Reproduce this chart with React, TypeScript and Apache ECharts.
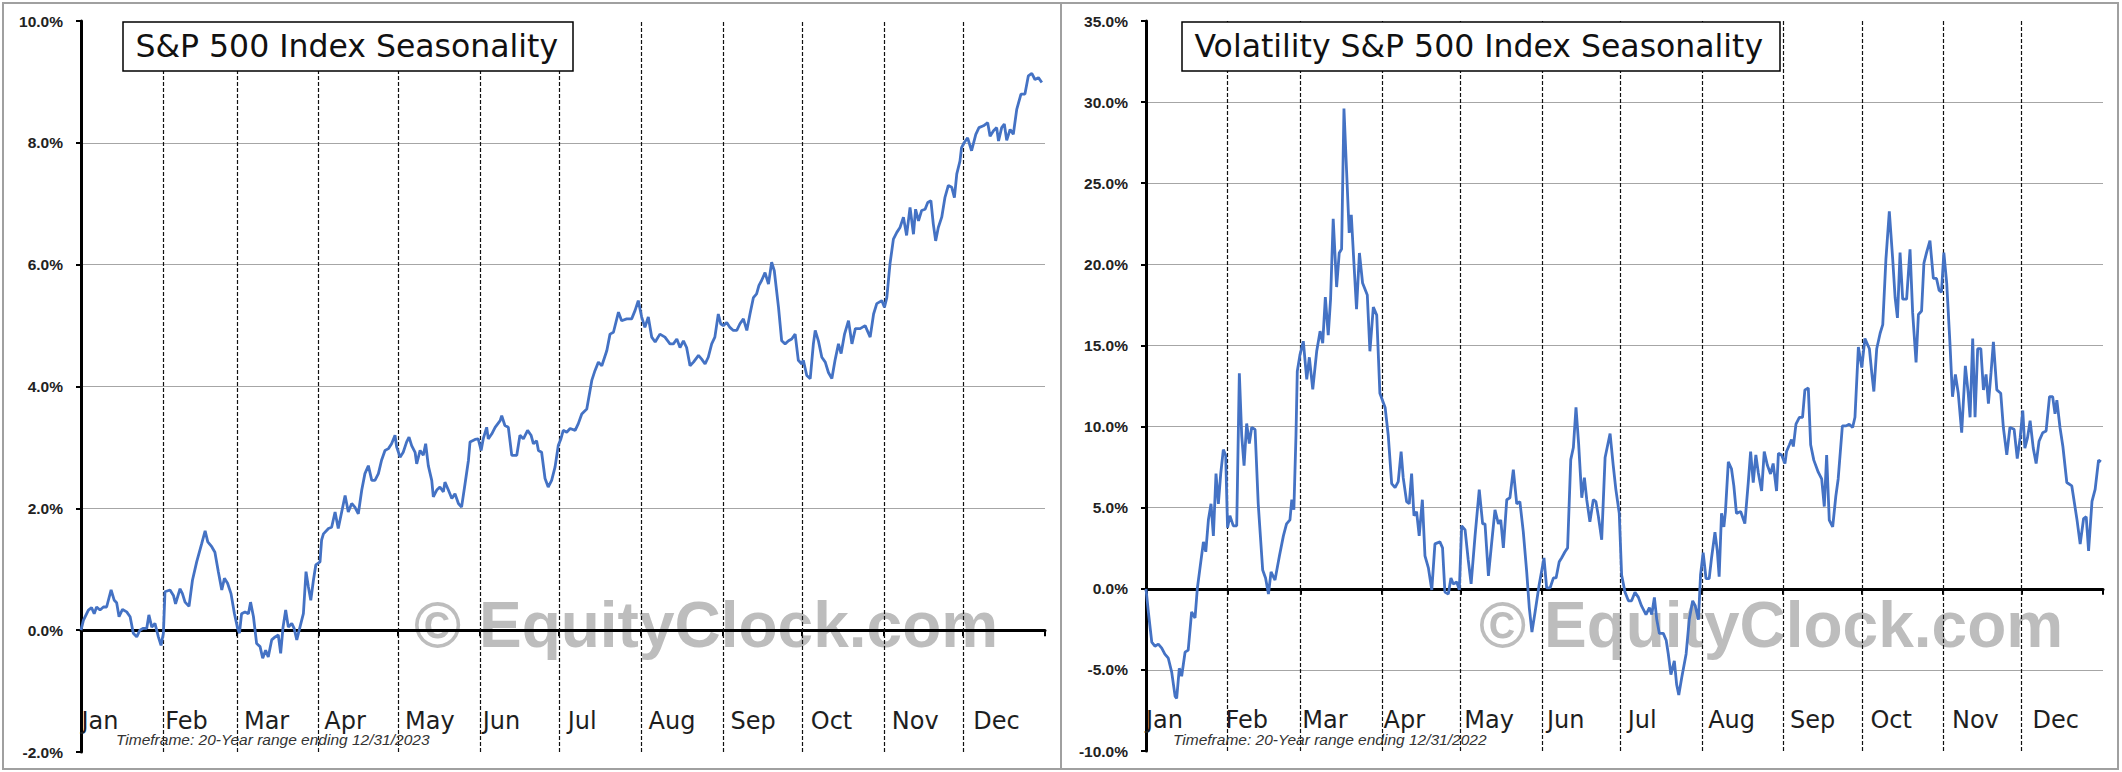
import React, { useEffect, useRef } from "react";
import * as echarts from "echarts";

// ---------- shared axis data ----------
const monthNames = ["Jan", "Feb", "Mar", "Apr", "May", "Jun", "Jul", "Aug", "Sep", "Oct", "Nov", "Dec"];
const monthStartDays = [0, 31, 59, 90, 120, 151, 181, 212, 243, 273, 304, 334, 365];
// day at which each month label starts (first trading days)
const spxLabelDays = [0.2, 31.9, 61.7, 92.1, 122.7, 152.1, 184.3, 214.9, 245.9, 276.3, 307, 337.8];
const vixLabelDays = [0, 30.3, 59.6, 90.6, 121.4, 152.9, 183.7, 214.4, 245.6, 276.3, 307.4, 338.1];

// ---------- S&P 500 seasonality (% gain, by day of year) ----------
const spxDays = [
  0, 0.9, 2.8, 4.0, 5.0, 5.9, 7.2, 8.5, 9.7, 11.4, 12.6, 13.5, 14.4, 15.7, 17.3, 18.6, 19.8, 21.1, 22.3, 23.6,
  24.9, 25.7, 26.8, 28.0, 29.3, 30.3, 31.2, 31.8, 33.7, 35.0, 35.8, 37.5, 38.4, 39.4, 40.9, 42.2, 43.8, 45.7, 47.0, 48.0,
  49.5, 50.7, 52.0, 53.3, 54.3, 55.5, 56.8, 58.1, 59.3, 60.0, 60.8, 62.1, 63.4, 64.2, 65.3, 66.5, 67.8, 68.8, 69.9, 70.9,
  72.2, 73.5, 74.7, 75.6, 76.5, 77.5, 78.5, 79.8, 80.7, 81.7, 82.9, 84.2, 85.2, 86.1, 87.0, 88.0, 88.9, 90.5, 91.1, 91.8,
  93.7, 94.9, 96.2, 97.4, 98.7, 100.0, 101.2, 102.5, 103.7, 105.0, 106.3, 107.5, 108.8, 110.1, 111.3, 112.6, 113.8, 115.1, 116.4, 117.6,
  118.9, 119.5, 120.8, 122.0, 123.3, 124.2, 125.2, 126.5, 127.1, 128.4, 129.6, 130.5, 131.5, 132.8, 133.4, 134.7, 135.9, 137.2, 137.8, 139.1,
  140.4, 141.6, 142.9, 144.1, 145.4, 146.7, 147.3, 149.2, 150.4, 151.5, 152.3, 153.6, 154.2, 155.5, 156.8, 158.7, 159.3, 160.5, 161.8, 163.1,
  165.0, 166.2, 167.5, 169.1, 170.4, 171.3, 172.5, 173.2, 174.4, 175.7, 176.9, 178.2, 179.5, 180.7, 181.7, 182.6, 183.9, 185.2, 187.1, 188.3,
  189.6, 191.5, 193.4, 194.6, 195.9, 197.2, 199.1, 200.3, 201.6, 203.5, 204.7, 206.6, 208.5, 209.8, 211.0, 212.3, 213.5, 214.8, 216.1, 217.4,
  219.2, 221.1, 223.0, 224.3, 225.6, 226.8, 228.1, 229.3, 230.6, 231.9, 233.8, 235.0, 236.3, 237.5, 238.8, 240.0, 241.3, 242.2, 243.2, 244.5,
  245.7, 247.0, 248.3, 249.5, 250.8, 252.1, 253.3, 254.6, 255.8, 256.7, 257.7, 259.0, 260.3, 261.5, 262.5, 264.1, 265.3, 266.6, 267.9, 269.1,
  270.4, 271.6, 272.9, 273.5, 274.8, 276.1, 277.3, 278.0, 279.2, 280.5, 281.8, 283.0, 284.3, 285.5, 286.8, 287.8, 289.1, 290.6, 291.9, 293.2,
  295.0, 296.9, 298.8, 300.1, 301.3, 303.2, 304.2, 305.1, 306.3, 307.6, 308.9, 310.1, 311.4, 312.6, 313.9, 315.2, 316.0, 317.1, 318.3, 319.6,
  320.6, 321.8, 322.7, 323.6, 324.6, 325.9, 327.1, 328.4, 329.7, 330.7, 331.6, 332.8, 333.4, 334.5, 335.7, 337.2, 338.8, 340.0, 341.7, 343.3,
  344.2, 345.5, 346.7, 347.4, 348.6, 349.6, 350.5, 351.8, 353.0, 354.3, 355.9, 357.4, 358.7, 360.0, 361.2, 362.5, 363.8,
];
const spxValues = [
  0, 0.16, 0.33, 0.37, 0.27, 0.38, 0.33, 0.38, 0.38, 0.66, 0.49, 0.45, 0.22, 0.34, 0.30, 0.22, -0.05, -0.11, 0, 0.03,
  0.03, 0.25, 0.05, 0.11, -0.11, -0.25, -0.05, 0.63, 0.66, 0.57, 0.43, 0.68, 0.60, 0.46, 0.39, 0.82, 1.12, 1.42, 1.63, 1.45,
  1.37, 1.28, 0.96, 0.66, 0.85, 0.77, 0.60, 0.27, 0.03, -0.05, 0.27, 0.30, 0.27, 0.46, 0.22, -0.22, -0.27, -0.46, -0.33, -0.44,
  -0.16, -0.11, -0.08, -0.38, 0.05, 0.33, 0.05, 0.11, 0.03, -0.16, 0.05, 0.27, 0.96, 0.71, 0.49, 0.82, 1.07, 1.12, 1.48, 1.58,
  1.67, 1.69, 1.94, 1.67, 1.94, 2.21, 1.94, 2.08, 2.02, 1.91, 2.30, 2.57, 2.70, 2.46, 2.46, 2.57, 2.79, 2.95, 2.98, 3.06,
  3.20, 3.01, 2.84, 2.92, 3.09, 3.17, 3.03, 2.92, 2.73, 2.95, 2.87, 3.06, 2.70, 2.46, 2.19, 2.30, 2.35, 2.27, 2.43, 2.30,
  2.16, 2.24, 2.08, 2.02, 2.40, 2.79, 3.09, 3.13, 3.14, 2.95, 3.14, 3.33, 3.14, 3.22, 3.33, 3.44, 3.52, 3.36, 3.33, 2.87,
  2.87, 3.20, 3.14, 3.28, 3.20, 3.06, 3.11, 2.95, 2.92, 2.49, 2.35, 2.46, 2.68, 3.03, 3.14, 3.28, 3.25, 3.31, 3.28, 3.39,
  3.55, 3.63, 4.10, 4.26, 4.40, 4.34, 4.59, 4.86, 4.89, 5.22, 5.08, 5.11, 5.11, 5.25, 5.41, 5.14, 4.97, 5.14, 4.81, 4.73,
  4.86, 4.81, 4.70, 4.70, 4.78, 4.64, 4.75, 4.64, 4.34, 4.40, 4.51, 4.45, 4.37, 4.48, 4.70, 4.81, 5.19, 5.03, 5.00, 5.05,
  4.97, 4.92, 4.92, 5.03, 5.11, 4.92, 5.19, 5.46, 5.52, 5.66, 5.74, 5.87, 5.68, 6.04, 5.90, 5.30, 4.75, 4.70, 4.75, 4.78,
  4.86, 4.43, 4.37, 4.43, 4.18, 4.13, 4.70, 4.92, 4.75, 4.48, 4.40, 4.23, 4.13, 4.43, 4.70, 4.54, 4.86, 5.08, 4.70, 4.95,
  4.95, 5.00, 4.81, 5.19, 5.36, 5.41, 5.30, 5.46, 6.01, 6.42, 6.53, 6.61, 6.78, 6.48, 6.94, 6.50, 6.91, 6.72, 6.89, 6.91,
  7.02, 7.05, 6.67, 6.39, 6.61, 6.78, 7.10, 7.30, 7.27, 7.10, 7.49, 7.70, 7.92, 8.01, 8.08, 7.87, 8.14, 8.25, 8.28, 8.33,
  8.11, 8.20, 8.25, 8.03, 8.25, 8.31, 8.04, 8.22, 8.14, 8.55, 8.80, 8.80, 9.10, 9.14, 9.04, 9.07, 8.99,
];

// ---------- VIX seasonality (% change, by day of year) ----------
const vixDays = [
  0, 0.9, 2.2, 3.4, 4.7, 6.0, 7.2, 8.5, 9.8, 11.1, 11.7, 12.7, 13.6, 14.9, 16.1, 17.4, 18.7, 19.6, 20.6, 21.9,
  22.8, 23.8, 24.8, 25.7, 26.7, 27.6, 28.5, 29.5, 30.4, 31.1, 32.0, 33.3, 34.6, 35.6, 36.5, 37.4, 38.4, 39.4, 40.3, 41.6,
  42.8, 44.5, 45.6, 46.7, 47.7, 49.2, 50.9, 52.4, 53.6, 54.9, 55.6, 56.4, 57.2, 57.7, 58.7, 60.0, 61.3, 62.3, 63.6, 65.1,
  66.4, 67.4, 68.4, 69.5, 70.4, 71.4, 72.7, 73.7, 74.6, 75.5, 76.5, 77.5, 78.3, 79.3, 80.3, 81.4, 82.6, 84.4, 85.4, 86.7,
  88.0, 89.2, 91.2, 92.4, 93.7, 95.0, 96.2, 97.3, 98.1, 99.4, 100.4, 101.3, 102.2, 103.2, 104.2, 105.4, 106.4, 107.7, 109.0, 110.2,
  112.1, 113.1, 114.0, 115.3, 116.3, 117.2, 118.5, 119.5, 120.4, 121.7, 122.9, 124.0, 125.5, 127.1, 128.4, 129.3, 130.6, 131.8, 133.1, 134.4,
  135.3, 136.3, 137.6, 138.8, 140.1, 141.4, 142.6, 143.9, 145.2, 146.2, 147.2, 148.4, 150.0, 151.8, 152.8, 154.1, 155.4, 156.4, 157.6, 158.5,
  159.8, 160.8, 162.0, 163.0, 164.0, 165.0, 166.2, 167.2, 168.1, 169.3, 170.6, 171.6, 172.5, 173.8, 175.1, 177.0, 178.2, 179.2, 180.5, 181.4,
  182.7, 184.0, 185.2, 186.5, 187.8, 189.0, 190.7, 192.0, 192.9, 193.9, 194.8, 195.8, 197.3, 198.4, 199.2, 200.2, 201.5, 202.4, 203.2, 204.3,
  206.0, 207.2, 208.5, 209.5, 210.7, 211.5, 212.5, 213.6, 214.8, 215.7, 217.0, 217.9, 218.6, 219.5, 220.4, 221.0, 222.1, 223.3, 224.2, 225.2,
  226.8, 228.4, 229.7, 230.6, 231.6, 232.6, 233.5, 234.8, 235.8, 237.0, 238.2, 239.2, 240.5, 241.2, 242.4, 243.7, 244.3, 245.4, 246.2, 246.9,
  247.9, 249.2, 250.4, 251.3, 252.6, 253.5, 254.7, 256.4, 257.7, 258.7, 259.6, 260.6, 261.9, 263.1, 264.0, 265.6, 267.0, 268.2, 269.5, 270.4,
  271.7, 273.0, 274.2, 275.9, 276.8, 277.6, 278.7, 280.0, 281.0, 282.2, 283.5, 284.8, 285.7, 286.6, 287.6, 288.6, 290.1, 291.4, 292.4, 293.7,
  294.6, 295.8, 296.7, 297.7, 299.0, 300.3, 301.5, 302.5, 303.4, 304.3, 305.4, 306.6, 307.6, 308.7, 309.8, 311.1, 312.5, 313.6, 314.3, 315.3,
  316.2, 317.2, 318.4, 319.4, 320.4, 321.3, 322.3, 323.2, 324.5, 326.0, 327.0, 328.3, 329.5, 331.1, 332.3, 333.4, 334.4, 335.2, 336.2, 337.2,
  338.4, 339.5, 340.6, 342.0, 343.3, 344.6, 345.8, 346.7, 347.4, 348.6, 349.7, 351.2, 353.1, 355.1, 356.3, 357.6, 358.6, 359.5, 360.8, 362.0,
  363.3, 364.2,
];
const vixValues = [
  0, -1.43, -3.29, -3.54, -3.41, -3.66, -4.03, -4.28, -5.14, -6.63, -6.75, -4.90, -5.39, -3.91, -3.78, -1.43, -1.80, 0.05, 1.29, 2.89,
  2.28, 4.25, 5.24, 3.26, 7.10, 5.24, 7.10, 8.58, 8.21, 3.76, 4.50, 3.88, 3.88, 13.28, 9.45, 7.59, 10.19, 8.95, 9.94, 9.82,
  5.24, 1.16, 0.67, -0.32, 1.04, 0.54, 2.03, 3.26, 4.0, 4.25, 5.49, 4.87, 9.45, 13.41, 14.4, 15.26, 12.91, 14.27, 12.29, 14.64,
  15.88, 15.14, 17.98, 15.63, 17.86, 22.80, 18.60, 20.70, 20.95, 29.61, 25.77, 21.94, 23.05, 20.08, 17.24, 20.70, 18.85, 18.11, 14.64, 17.36,
  16.87, 12.05, 11.18, 9.45, 6.48, 6.23, 6.60, 8.46, 6.85, 5.37, 5.24, 7.10, 4.50, 4.75, 3.26, 5.49, 2.03, 1.29, -0.07, 2.77,
  2.89, 2.52, -0.20, -0.32, 0.67, 0.30, 0.42, -0.07, 3.88, 3.63, 1.78, 0.30, 3.26, 6.11, 4.0, 4.0, 0.79, 2.77, 4.87, 4.0,
  4.25, 2.52, 5.49, 5.61, 7.35, 5.24, 5.37, 3.51, 1.04, -1.19, -2.67, -1.43, 0.30, 1.90, 0.05, 0.05, 0.67, 0.67, 1.66, 1.90,
  2.28, 2.52, 7.96, 8.71, 11.18, 8.95, 5.61, 6.85, 5.49, 4.13, 5.49, 5.37, 4.50, 3.02, 8.09, 9.57, 7.61, 6.13, 4.65, 0.85,
  -0.21, -0.74, -0.74, -0.21, -0.53, -1.06, -1.59, -1.16, -1.59, -0.53, -1.90, -2.75, -2.75, -3.17, -4.02, -5.29, -4.44, -5.92, -6.55, -5.50,
  -4.02, -1.90, -0.74, -1.06, -1.90, 0.85, 2.22, 0.63, 0.63, 1.90, 3.49, 2.33, 0.74, 4.65, 3.81, 4.76, 7.82, 7.40, 6.34, 4.65,
  4.76, 4.02, 6.55, 8.46, 6.55, 8.25, 7.19, 6.03, 8.46, 7.61, 7.08, 7.72, 6.03, 8.35, 8.25, 7.72, 8.46, 8.88, 9.20, 8.77,
  10.15, 10.57, 10.57, 12.26, 12.37, 8.88, 7.93, 7.19, 6.77, 5.07, 8.25, 4.23, 3.81, 5.71, 6.77, 10.04, 10.04, 10.15, 9.94, 10.57,
  14.90, 13.64, 15.43, 14.80, 13.32, 12.16, 14.80, 15.75, 16.28, 20.30, 23.26, 20.30, 17.97, 16.70, 20.72, 17.86, 17.86, 20.93, 17.02, 13.95,
  16.91, 17.12, 20.08, 20.72, 21.46, 19.13, 19.13, 18.39, 18.29, 20.72, 18.82, 15.22, 11.84, 13.21, 12.05, 9.62, 13.74, 12.05, 10.57, 15.43,
  10.57, 14.80, 14.80, 12.26, 13.21, 11.42, 13.32, 15.22, 12.26, 12.05, 9.94, 8.25, 9.94, 9.83, 8.03, 9.30, 10.99, 8.67, 9.30, 10.36,
  8.67, 7.72, 9.09, 9.62, 9.73, 11.84, 11.84, 10.78, 11.63, 9.94, 8.77, 6.55, 6.34, 4.23, 2.75, 4.33, 4.44, 2.33, 5.39, 6.13,
  7.93, 7.82,
];

// ---------- titles / notes ----------
const spxTitle = "S&P 500 Index Seasonality";
const vixTitle = "Volatility S&P 500 Index Seasonality";
const spxNote = "Timeframe: 20-Year range ending 12/31/2023";
const vixNote = "Timeframe: 20-Year range ending 12/31/2022";
const watermark = "\u00A9 EquityClock.com";

const LINE_COLOR = "#4472c4";

// x axis drawn on the zero line: black line + month ticks, no labels
function zeroXAxis(gridIndex: number) {
  return {
    type: "value",
    gridIndex,
    min: 0,
    max: 365,
    position: "bottom",
    axisLine: { show: true, onZero: true, lineStyle: { color: "#000", width: 3 } },
    axisTick: {
      show: true,
      customValues: monthStartDays.slice(1),
      length: 6,
      lineStyle: { color: "#000", width: 2 },
    },
    axisLabel: { show: false },
    splitLine: { show: false },
  };
}

// label-only x axis at the bottom of the plot, month names drawn inside
function labelXAxis(gridIndex: number, labelDays: number[]) {
  return {
    type: "value",
    gridIndex,
    min: 0,
    max: 365,
    position: "bottom",
    axisLine: { show: false, onZero: false },
    axisTick: { show: false },
    axisLabel: {
      show: true,
      inside: true,
      customValues: labelDays,
      formatter: (v: number, i: number) => {
        const k = labelDays.indexOf(v);
        return monthNames[k >= 0 ? k : i] ?? "";
      },
      margin: 31.5,
      align: "left",
      verticalAlign: "middle",
      fontFamily: "DejaVu Sans",
      fontSize: 24,
      color: "#1e1e1e",
    },
    splitLine: { show: false },
  };
}

function yAxisFor(gridIndex: number, min: number, max: number, interval: number) {
  return {
    type: "value",
    gridIndex,
    min,
    max,
    interval,
    axisLine: { show: true, onZero: false, lineStyle: { color: "#000", width: 3 } },
    axisTick: { show: true, length: 5, lineStyle: { color: "#000", width: 2 } },
    axisLabel: {
      formatter: (v: number) => v.toFixed(1) + "%",
      margin: 18,
      fontFamily: "Liberation Sans",
      fontWeight: "bold",
      fontSize: 15.5,
      color: "#222",
    },
    splitLine: {
      show: true,
      showMinLine: false,
      showMaxLine: false,
      lineStyle: { color: "#a6a6a6", width: 1 },
    },
  };
}

function lineSeries(xIdx: number, yIdx: number, days: number[], values: number[]) {
  return {
    type: "line",
    xAxisIndex: xIdx,
    yAxisIndex: yIdx,
    data: days.map((d, i) => [d, values[i]]),
    symbol: "none",
    showSymbol: false,
    smooth: false,
    lineStyle: { color: LINE_COLOR, width: 2.8 },
    itemStyle: { color: LINE_COLOR },
    z: 3,
    markLine: {
      silent: true,
      z: 1,
      symbol: ["none", "none"],
      label: { show: false },
      lineStyle: { color: "#111", width: 1.2, type: [4, 2] },
      emphasis: { disabled: true },
      data: monthStartDays.slice(1, 12).map((d) => ({ xAxis: d })),
    },
  };
}

function textEl(text: string, x: number, y: number, font: string, fill: string, z: number) {
  return {
    type: "text",
    x,
    y,
    z,
    silent: true,
    style: { text, font, fill, align: "left", verticalAlign: "middle" },
  };
}

export default function App() {
  const ref = useRef<HTMLDivElement>(null);

  useEffect(() => {
    if (!ref.current) return;
    const chart = echarts.init(ref.current, null, { renderer: "svg" });
    const option: any = {
      animation: false,
      backgroundColor: "#ffffff",
      grid: [
        { left: 81, top: 21, width: 964, height: 731, containLabel: false, outerBoundsMode: "none" },
        { left: 1146, top: 21, width: 957, height: 730, containLabel: false, outerBoundsMode: "none" },
      ],
      xAxis: [zeroXAxis(0), labelXAxis(0, spxLabelDays), zeroXAxis(1), labelXAxis(1, vixLabelDays)],
      yAxis: [yAxisFor(0, -2, 10, 2), yAxisFor(1, -10, 35, 5)],
      series: [lineSeries(0, 0, spxDays, spxValues), lineSeries(2, 1, vixDays, vixValues)],
      graphic: [
        // panel frames
        { type: "rect", silent: true, z: 0, shape: { x: 3, y: 3, width: 1058, height: 766 }, style: { fill: "none", stroke: "#a0a0a0", lineWidth: 2 } },
        { type: "rect", silent: true, z: 0, shape: { x: 1061, y: 3, width: 1057, height: 766 }, style: { fill: "none", stroke: "#a0a0a0", lineWidth: 2 } },
        // watermarks
        { ...textEl(watermark, 414, 625, 'bold 64px "Liberation Sans"', "#bdbdbd", -1) },
        { ...textEl(watermark, 1479, 625, 'bold 64px "Liberation Sans"', "#bdbdbd", -1) },
        // title boxes
        { type: "rect", silent: true, z: 20, shape: { x: 123, y: 22, width: 450, height: 49 }, style: { fill: "#fff", stroke: "#000", lineWidth: 1.5 } },
        { type: "rect", silent: true, z: 20, shape: { x: 1182, y: 22, width: 598, height: 49 }, style: { fill: "#fff", stroke: "#000", lineWidth: 1.5 } },
        textEl(spxTitle, 135.5, 46, '31.5px "DejaVu Sans"', "#111", 21),
        textEl(vixTitle, 1194.5, 46, '31.5px "DejaVu Sans"', "#111", 21),
        // timeframe notes
        textEl(spxNote, 116, 739, 'italic 15.5px "Liberation Sans"', "#333", 10),
        textEl(vixNote, 1173, 739, 'italic 15.5px "Liberation Sans"', "#333", 10),
      ],
    };
    chart.setOption(option);
    return () => chart.dispose();
  }, []);

  return (
    <div
      ref={ref}
      style={{ position: "absolute", left: 0, top: 0, width: 2122, height: 772, background: "#fff" }}
    />
  );
}
